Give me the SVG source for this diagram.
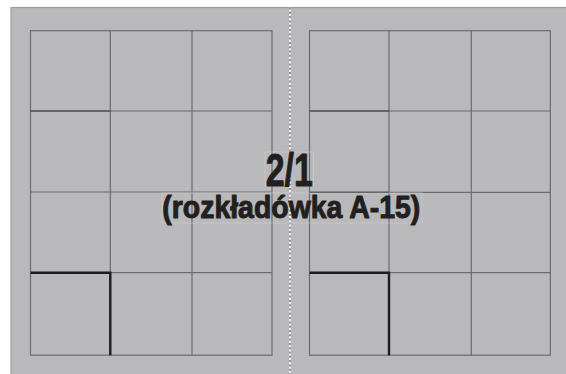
<svg xmlns="http://www.w3.org/2000/svg" width="566" height="374" viewBox="0 0 566 374">
<style>
.grid{fill:none;stroke:#6b6b6d;stroke-width:1.2}
.dark{stroke:#3a3a3c;stroke-width:1.2;fill:none}
.thick{stroke:#1d1d1f;stroke-width:2.4;fill:none}
.tbox{fill:none;stroke:#cdcdcf;stroke-width:0.6}
.lbl{font-family:"Liberation Sans",Arial,sans-serif;font-weight:bold;fill:#231f20;stroke:#231f20;stroke-width:1;stroke-linejoin:round;text-anchor:middle}
</style>
<rect x="0" y="0" width="566" height="374" fill="#ffffff"/>
<g id="page">
<rect x="11" y="7.5" width="560" height="370" fill="#b9b9bc" stroke="#9c9c9e" stroke-width="1.2"/>
</g>
<g id="left-grid">
<rect class="grid" x="30.5" y="30.7" width="241.5" height="324.5"/>
<line class="grid" x1="110.3" y1="30.7" x2="110.3" y2="355.2"/>
<line class="grid" x1="192" y1="30.7" x2="192" y2="355.2"/>
<line class="grid" x1="30.5" y1="111" x2="272" y2="111"/>
<line class="grid" x1="30.5" y1="192" x2="272" y2="192"/>
<line class="grid" x1="30.5" y1="272.7" x2="272" y2="272.7"/>
<line class="dark" x1="30.5" y1="111" x2="110.3" y2="111"/>
<path class="thick" d="M30.5 272.7 H110.3 V355.2"/>
</g>
<g id="right-grid">
<rect class="grid" x="309.5" y="30.7" width="240.8" height="324.5"/>
<line class="grid" x1="389" y1="30.7" x2="389" y2="355.2"/>
<line class="grid" x1="471.3" y1="30.7" x2="471.3" y2="355.2"/>
<line class="grid" x1="309.5" y1="111" x2="550.3" y2="111"/>
<line class="grid" x1="309.5" y1="192.3" x2="550.3" y2="192.3"/>
<line class="grid" x1="309.5" y1="272.7" x2="550.3" y2="272.7"/>
<line class="dark" x1="309.5" y1="111" x2="389" y2="111"/>
<line class="dark" x1="309.5" y1="192.3" x2="389" y2="192.3"/>
<path class="thick" d="M309.5 272.7 H389 V355.2"/>
</g>
<g id="fold">
<line x1="290" y1="7.5" x2="290" y2="374" stroke="#ffffff" stroke-width="1.6"/>
<line x1="290" y1="7.5" x2="290" y2="374" stroke="#7a7a7c" stroke-width="1.6" stroke-dasharray="2 2.3"/>
</g>
<g id="label">
<rect class="tbox" x="265" y="152" width="48.5" height="34"/>
<rect class="tbox" x="162" y="193" width="260" height="30"/>
<text class="lbl" x="289.2" y="185.5" font-size="46" textLength="47" lengthAdjust="spacingAndGlyphs">2/1</text>
<text class="lbl" x="291.3" y="218.3" font-size="31" textLength="258" lengthAdjust="spacingAndGlyphs">(rozkładówka A-15)</text>
</g>
</svg>
